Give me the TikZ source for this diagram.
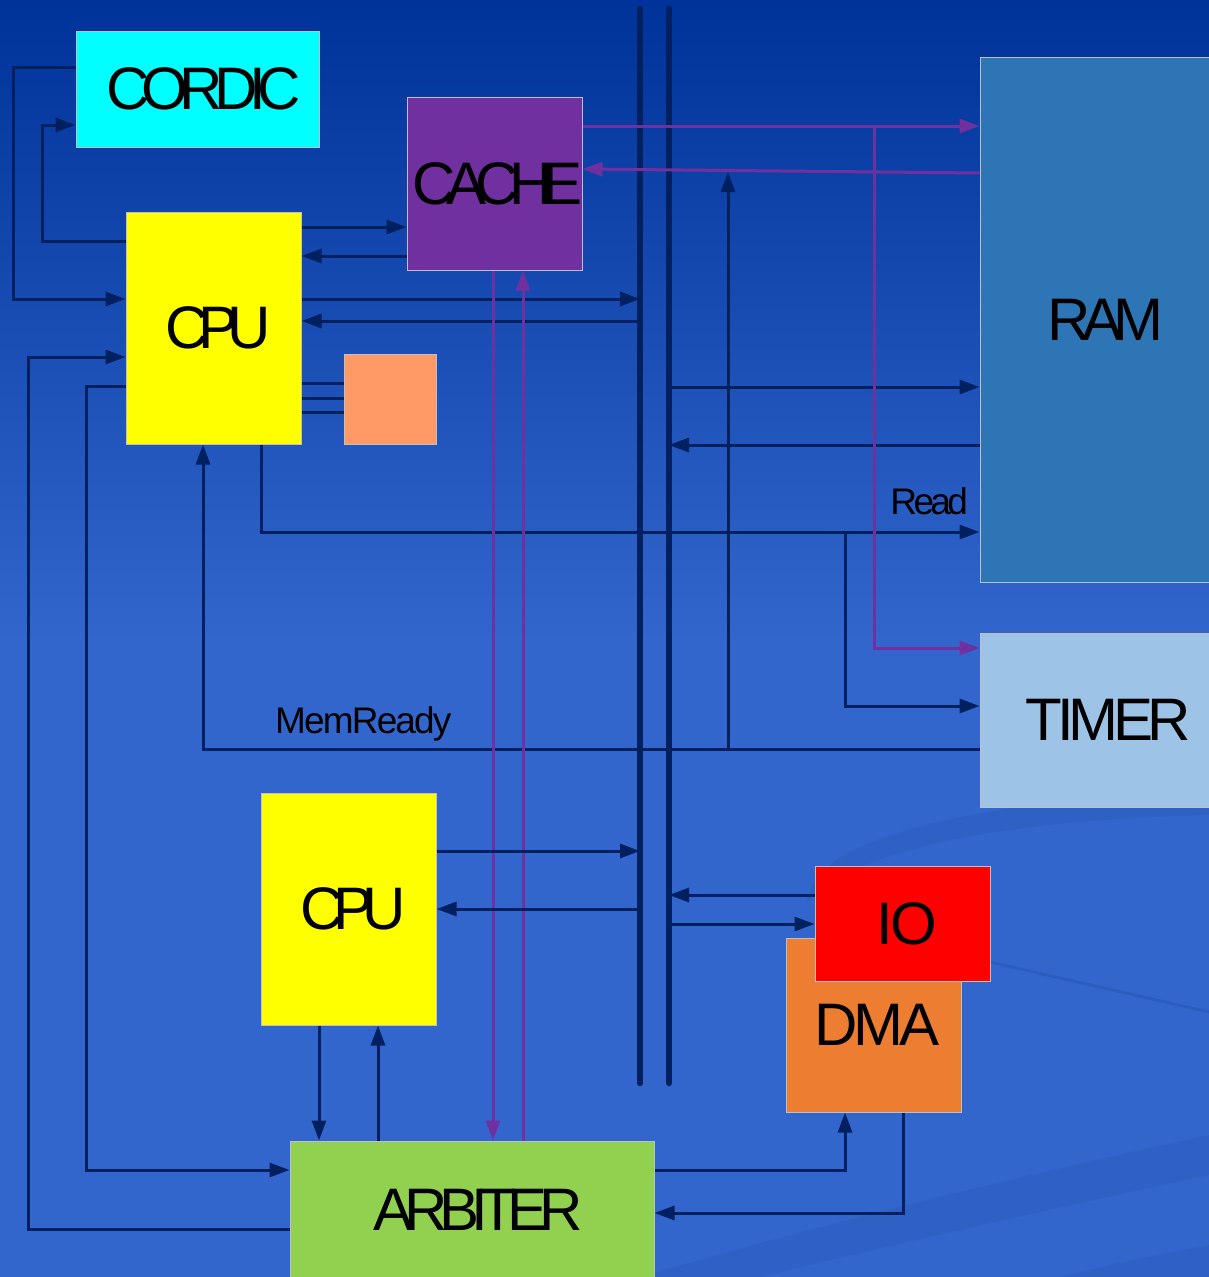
\documentclass[tikz,border=0pt]{standalone}
\usepackage{fontspec}
\setmainfont{Liberation Sans}
\usetikzlibrary{arrows.meta, positioning, calc}
\definecolor{bgTop}{HTML}{003399}
\definecolor{bgBot}{HTML}{3366CC}
\definecolor{wire}{HTML}{002060}
\definecolor{mPurple}{HTML}{7030A0}
\definecolor{mCyan}{HTML}{00FFFF}
\definecolor{mYellow}{HTML}{FFFF00}
\definecolor{mPeach}{HTML}{FF9966}
\definecolor{mRam}{HTML}{2E75B6}
\definecolor{mTimer}{HTML}{9DC3E6}
\definecolor{mRed}{HTML}{FF0000}
\definecolor{mOrange}{HTML}{ED7D31}
\definecolor{mGreen}{HTML}{92D050}
\definecolor{edge}{HTML}{C0C0C0}
\newcommand{\blkfont}{\fontsize{60}{60}\selectfont}
\newcommand{\trk}[1]{\addfontfeature{LetterSpace=#1}}

\begin{document}
\begin{tikzpicture}[x=1pt, y=-1pt,
    blk/.style={draw=edge, line width=1pt, inner sep=0pt, text=black},
    wr/.style={draw=wire, line width=3pt},
    pw/.style={draw=mPurple, line width=3pt},
    bus/.style={draw=wire, line width=6.5pt, line cap=round},
    tag/.style={text=black, inner sep=0pt},
    >={Triangle[length=20pt, width=14pt]},
  ]
    \useasboundingbox (0,0) rectangle (1209,1277);
    \clip (0,0) rectangle (1209,1277);

    % background
    \shade[top color=bgTop, bottom color=bgBot] (0,0) rectangle (1209,640);
    \fill[bgBot] (0,639) rectangle (1209,1277);
    \fill[wire, opacity=0.08] (1209,790) .. controls (1000,800) and (850,830) .. (815,880)
        -- (805,905) .. controls (850,850) and (1000,820) .. (1209,815) -- cycle;
    \draw[wire, opacity=0.12, line width=3pt] (990,962) -- (1209,1012);
    \fill[wire, opacity=0.07] (640,1277) .. controls (800,1230) and (1000,1180) .. (1209,1135)
        -- (1209,1175) .. controls (1000,1220) and (850,1255) .. (760,1277) -- cycle;
    \fill[wire, opacity=0.07] (1060,1277) .. controls (1120,1262) and (1170,1252) .. (1209,1245)
        -- (1209,1277) -- cycle;

    % bus
    \coordinate (busA) at (640,9);
    \coordinate (busAe) at (640,1083);
    \coordinate (busB) at (669,9);
    \coordinate (busBe) at (669,1083);
    \draw[bus] (busA) -- (busAe);
    \draw[bus] (busB) -- (busBe);

    % blocks
    \node[blk, fill=mCyan, minimum width=243, minimum height=116,
          font=\blkfont\trk{-14}] (cordic) at (197.5,89) {\kern12pt CORDIC};
    \node[blk, fill=mPurple, minimum width=175, minimum height=173,
          font=\blkfont\trk{-17}] (cache) at (494.5,183.5) {\makebox[0pt]{\kern6pt CACHE}};
    \node[blk, fill=mYellow, minimum width=175, minimum height=232,
          font=\blkfont\trk{-18}] (cpuA) at (213.5,328) {\kern9pt CPU};
    \node[blk, fill=mPeach, minimum width=92, minimum height=90] (aux) at (390,399) {};
    \node[blk, fill=mRam, minimum width=245, minimum height=525,
          font=\blkfont\trk{-15}] (ram) at (1102.5,319.5) {\kern6pt RAM};
    \node[blk, fill=mTimer, minimum width=252, minimum height=174,
          font=\blkfont\trk{-9}] (timer) at (1106,720) {\kern5pt TIMER};
    \node[blk, fill=mYellow, minimum width=175, minimum height=232,
          font=\blkfont\trk{-18}] (cpuB) at (348.5,909) {\kern9pt CPU};
    \node[blk, fill=mOrange, minimum width=175, minimum height=174,
          font=\blkfont\trk{-7}] (dma) at (873.5,1025) {\kern7pt DMA};
    \node[blk, fill=mRed, minimum width=175, minimum height=115,
          font=\blkfont\trk{-5}] (io) at (902.5,923.5) {\kern9pt IO};
    \node[blk, fill=mGreen, minimum width=364, minimum height=138,
          font=\blkfont\trk{-14}] (arb) at (472,1210) {\kern12pt ARBITER};

    % junctions
    \coordinate (rdTap) at (845,532);
    \coordinate (mrTap) at (728,749);
    \coordinate (mrEnd) at (728,172);
    \coordinate (ckTap) at (874,126);

    % CPU <-> CORDIC
    \draw[wr, ->] (cordic.west |- 0,67) -- (13,67) |- (cpuA.west |- 0,299);
    \draw[wr, ->] (cpuA.west |- 0,241) -- (42,241) |- (cordic.west |- 0,125);
    % CPU <-> CACHE
    \draw[wr, ->] (cpuA.east |- 0,227) -- (cache.west |- 0,227);
    \draw[wr, ->] (cache.west |- 0,256) -- (cpuA.east |- 0,256);
    % CPU <-> bus
    \draw[wr, ->] (cpuA.east |- 0,299) -- (busA |- 0,299);
    \draw[wr, ->] (busA |- 0,321) -- (cpuA.east |- 0,321);
    % CPU -- aux
    \foreach \yy in {383,398,412}
      \draw[wr] (cpuA.east |- 0,\yy) -- (aux.west |- 0,\yy);
    % ARBITER <-> CPU
    \draw[wr, ->] (arb.west |- 0,1229) -- (28,1229) |- (cpuA.west |- 0,357);
    \draw[wr, ->] (cpuA.west |- 0,386) -- (86,386) |- (arb.west |- 0,1170);
    % Read
    \draw[wr, ->] (261,0 |- cpuA.south) |- (ram.west |- 0,532);
    \draw[wr, ->] (rdTap) |- (timer.west |- 0,706);
    \node[tag, anchor=base east, font=\fontsize{37}{37}\selectfont\trk{-10}]
        (rdLbl) at (968,514) {Read};
    % MemReady
    \draw[wr, ->] (timer.west |- 0,749) -| (203,0 |- cpuA.south);
    \draw[wr, ->] (mrTap) -- (mrEnd);
    \node[tag, anchor=base west, font=\fontsize{37}{37}\selectfont\trk{-5}]
        (mrLbl) at (275,733) {MemReady};
    % bus <-> RAM
    \draw[wr, ->] (busB |- 0,387) -- (ram.west |- 0,387);
    \draw[wr, ->] (ram.west |- 0,445) -- (busB |- 0,445);
    % CACHE <-> RAM / TIMER
    \draw[pw, ->] (cache.east |- 0,126) -- (ram.west |- 0,126);
    \draw[pw, ->] (ckTap) |- (timer.west |- 0,648);
    \draw[pw, ->] (ram.west |- 0,173) -- (cache.east |- 0,169);
    % CACHE <-> ARBITER
    \draw[pw, ->] (493,0 |- cache.south) -- (493,0 |- arb.north);
    \draw[pw, ->] (523,0 |- arb.north) -- (523,0 |- cache.south);
    % CPU2 <-> bus
    \draw[wr, ->] (cpuB.east |- 0,851) -- (busA |- 0,851);
    \draw[wr, ->] (busA |- 0,909) -- (cpuB.east |- 0,909);
    % IO <-> bus
    \draw[wr, ->] (io.west |- 0,895) -- (busB |- 0,895);
    \draw[wr, ->] (busB |- 0,924) -- (io.west |- 0,924);
    % CPU2 <-> ARBITER
    \draw[wr, ->] (319,0 |- cpuB.south) -- (319,0 |- arb.north);
    \draw[wr, ->] (378,0 |- arb.north) -- (378,0 |- cpuB.south);
    % ARBITER <-> DMA
    \draw[wr, ->] (arb.east |- 0,1170) -| (845,0 |- dma.south);
    \draw[wr, ->] (903,0 |- dma.south) |- (arb.east |- 0,1213);
  \end{tikzpicture}
\end{document}
